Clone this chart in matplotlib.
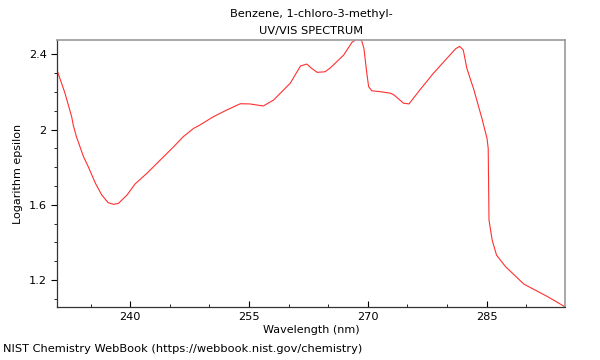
import matplotlib
matplotlib.use('Agg')
import matplotlib.pyplot as plt
from matplotlib.ticker import MultipleLocator

# spectrum
wavelength = [230.75, 231.76, 232.6, 232.8, 233.2, 234.1, 234.7, 235.6, 236.4, 237.2,
              237.9, 238.5, 239.6, 240.6, 242.1, 243.8, 245.5, 246.7, 248.0, 248.8,
              250.5, 252.2, 253.9, 255.1, 256.8, 258.1, 260.2, 261.5, 262.3, 262.9,
              263.6, 264.6, 265.3, 266.95, 268.0, 268.6, 269.2, 269.5, 269.85, 270.1,
              270.5, 271.6, 272.85, 273.3, 274.5, 275.2, 276.6, 278.3, 280.0, 281.1,
              281.6, 282.05, 282.5, 283.4, 284.4, 285.05, 285.2, 285.3, 285.7, 286.25,
              287.4, 289.7, 292.7, 294.9]
log_eps = [2.316, 2.193, 2.068, 2.024, 1.962, 1.855, 1.802, 1.714, 1.652, 1.611,
           1.602, 1.607, 1.652, 1.71, 1.767, 1.838, 1.909, 1.962, 2.006, 2.024,
           2.068, 2.104, 2.137, 2.136, 2.125, 2.157, 2.246, 2.338, 2.348, 2.325,
           2.304, 2.307, 2.329, 2.396, 2.464, 2.48, 2.475, 2.432, 2.307, 2.228,
           2.206, 2.201, 2.193, 2.184, 2.14, 2.136, 2.212, 2.30, 2.379, 2.43,
           2.442, 2.423, 2.326, 2.21, 2.06, 1.953, 1.9, 1.519, 1.412, 1.332,
           1.27, 1.178, 1.111, 1.057]

fig = plt.figure(figsize=(6, 3.6), dpi=100)
ax = fig.add_axes([0.095, 0.1472, 0.8467, 0.7417])
ax.plot(wavelength, log_eps, color='#ff3030', linewidth=0.8)

ax.set_xlim(230.75, 294.9)
ax.set_ylim(1.056, 2.476)
ax.xaxis.set_major_locator(MultipleLocator(15))
ax.xaxis.set_minor_locator(MultipleLocator(5))
ax.yaxis.set_minor_locator(MultipleLocator(0.1))
ax.set_yticks([1.2, 1.6, 2.0, 2.4])
ax.set_yticklabels(['1.2', '1.6', '2', '2.4'])

ax.tick_params(axis='x', which='both', direction='in', labelsize=8.2)
ax.tick_params(axis='x', which='major', length=4)
ax.tick_params(axis='x', which='minor', length=2)
ax.tick_params(axis='y', which='both', direction='out', labelsize=8.2)
ax.tick_params(axis='y', which='major', length=4)
ax.tick_params(axis='y', which='minor', length=2)

for s in ['top', 'right']:
    ax.spines[s].set_color('#999999')
    ax.spines[s].set_linewidth(1.2)
for s in ['left', 'bottom']:
    ax.spines[s].set_color('#333333')
    ax.spines[s].set_linewidth(0.9)

ax.set_xlabel('Wavelength (nm)', fontsize=8.0, labelpad=2)
ax.set_ylabel('Logarithm epsilon', fontsize=8.0)
ax.set_title('Benzene, 1-chloro-3-methyl-\nUV/VIS SPECTRUM', fontsize=8.2, pad=4, linespacing=1.95)
fig.text(0.005, 0.022, 'NIST Chemistry WebBook (https://webbook.nist.gov/chemistry)', fontsize=8.2)

fig.savefig('out.png', dpi=100)
